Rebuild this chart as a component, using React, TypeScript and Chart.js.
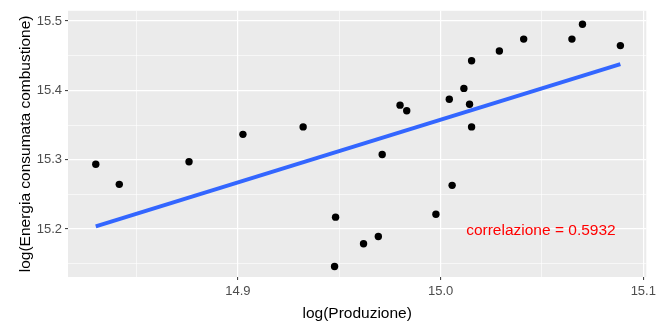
import React, { useEffect, useRef } from "react";
import { Chart, registerables } from "chart.js";

Chart.register(...registerables);

const prodX = [
  14.8299, 14.8415, 14.8759, 14.9025, 14.9322, 14.9482, 14.9477, 14.962,
  14.9693, 14.9712, 14.98, 14.9833, 14.9977, 15.0043, 15.0057, 15.0115,
  15.0143, 15.0153, 15.0153, 15.029, 15.041, 15.0648, 15.07, 15.0887,
];
const energiaY = [
  15.2933, 15.2644, 15.2971, 15.3365, 15.3473, 15.2171, 15.146, 15.1787,
  15.1891, 15.3075, 15.3786, 15.3706, 15.2213, 15.3871, 15.263, 15.4028,
  15.38, 15.4426, 15.3473, 15.4568, 15.4739, 15.4739, 15.4952, 15.4645,
];
const fitX = [14.8299, 15.0887];
const fitY = [15.2037, 15.4379];

const xTicks = [14.85, 14.9, 14.95, 15.0, 15.05, 15.1];
const yTicks = [15.15, 15.2, 15.25, 15.3, 15.35, 15.4, 15.45, 15.5];
const xRange = [14.8162, 15.1015];
const yRange = [15.1308, 15.5147];

const xTitle = "log(Produzione)";
const yTitle = "log(Energia consumata combustione)";
const noteText = "correlazione = 0.5932";
const notePos = [15.0495, 15.1976];

const FONT = '"Liberation Sans", Arial, sans-serif';

const isMajor = (v: number) => Math.abs(Math.round(v * 10) - v * 10) < 1e-6;

export default function App() {
  const ref = useRef<HTMLCanvasElement>(null);
  useEffect(() => {
    if (!ref.current) return;
    const plugin = {
      id: "ggdecor",
      beforeDraw(chart: any) {
        const { ctx, chartArea } = chart;
        ctx.save();
        ctx.fillStyle = "#FFFFFF";
        ctx.fillRect(0, 0, chart.width, chart.height);
        ctx.fillStyle = "#EBEBEB";
        ctx.fillRect(
          chartArea.left,
          chartArea.top,
          chartArea.right - chartArea.left,
          chartArea.bottom - chartArea.top
        );
        ctx.restore();
      },
      afterDraw(chart: any) {
        const { ctx, chartArea, scales } = chart;
        ctx.save();
        ctx.font = `15.5px ${FONT}`;
        ctx.fillStyle = "#000000";
        ctx.textAlign = "center";
        ctx.textBaseline = "alphabetic";
        ctx.fillText(xTitle, (chartArea.left + chartArea.right) / 2, 318);
        ctx.save();
        ctx.translate(29.5, (chartArea.top + chartArea.bottom) / 2);
        ctx.rotate(-Math.PI / 2);
        ctx.fillText(yTitle, 0, 0);
        ctx.restore();
        ctx.fillStyle = "#FF0000";
        ctx.textBaseline = "middle";
        ctx.fillText(
          noteText,
          scales.x.getPixelForValue(notePos[0]),
          scales.y.getPixelForValue(notePos[1])
        );
        ctx.restore();
      },
    };

    const chart = new Chart(ref.current, {
      type: "scatter",
      data: {
        datasets: [
          {
            type: "line",
            data: fitX.map((x, i) => ({ x, y: fitY[i] })),
            borderColor: "#3366FF",
            borderWidth: 4,
            borderCapStyle: "butt",
            pointRadius: 0,
            fill: false,
            order: 0,
          } as any,
          {
            data: prodX.map((x, i) => ({ x, y: energiaY[i] })),
            backgroundColor: "#000000",
            borderWidth: 0,
            pointRadius: 3.7,
            order: 1,
          },
        ],
      },
      options: {
        animation: false,
        responsive: false,
        devicePixelRatio: 1,
        layout: { padding: { top: 7, right: 12, left: 0, bottom: 0 } },
        plugins: {
          legend: { display: false },
          tooltip: { enabled: false },
        },
        scales: {
          x: {
            type: "linear",
            min: xRange[0],
            max: xRange[1],
            afterBuildTicks: (s: any) => {
              s.ticks = xTicks.map((v) => ({ value: v }));
            },
            afterFit: (s: any) => {
              s.height = 45;
            },
            ticks: {
              autoSkip: false,
              maxRotation: 0,
              padding: 4,
              color: "#4D4D4D",
              font: { family: FONT, size: 13 },
              callback: (v: any) => (isMajor(Number(v)) ? Number(v).toFixed(1) : ""),
            },
            grid: {
              color: "#FFFFFF",
              lineWidth: (c: any) => (isMajor(c.tick?.value ?? 0) ? 1.2 : 0.6),
              tickColor: (c: any) => (isMajor(c.tick?.value ?? 0) ? "#333333" : "rgba(0,0,0,0)"),
              tickLength: 3,
              tickWidth: 1,
            },
            border: { display: false },
          },
          y: {
            type: "linear",
            min: yRange[0],
            max: yRange[1],
            afterBuildTicks: (s: any) => {
              s.ticks = yTicks.map((v) => ({ value: v }));
            },
            afterFit: (s: any) => {
              s.width = 68;
            },
            ticks: {
              autoSkip: false,
              padding: 3,
              color: "#4D4D4D",
              font: { family: FONT, size: 13 },
              callback: (v: any) => (isMajor(Number(v)) ? Number(v).toFixed(1) : ""),
            },
            grid: {
              color: "#FFFFFF",
              lineWidth: (c: any) => (isMajor(c.tick?.value ?? 0) ? 1.2 : 0.6),
              tickColor: (c: any) => (isMajor(c.tick?.value ?? 0) ? "#333333" : "rgba(0,0,0,0)"),
              tickLength: 3,
              tickWidth: 1,
            },
            border: { display: false },
          },
        },
      },
      plugins: [plugin],
    } as any);
    return () => chart.destroy();
  }, []);

  return (
    <div style={{ position: "fixed", left: 0, top: 0, width: 660, height: 322 }}>
      <canvas ref={ref} width={660} height={322} style={{ display: "block" }} />
    </div>
  );
}
